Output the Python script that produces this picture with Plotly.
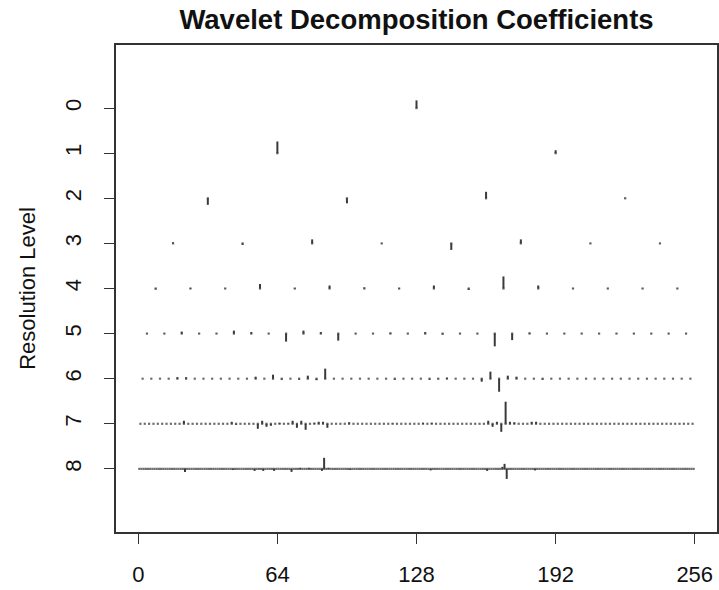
import plotly.graph_objects as go

# ---- data: wavelet coefficients per resolution level (upward = positive) ----
levels = [0, 1, 2, 3, 4, 5, 6, 7, 8]
n_points = 256

level0 = [7.7]
level1 = [11.7, 3.0]
level2 = [-6.5, -5.0, 6.5, 0.5]
level3 = [1.0, -1.5, 4.0, 0.3, -6.5, 4.0, 0.3, 0.3]
level4 = [-1.0, 0.5, 0.3, 4.5, -0.5, 3.0, 1.0, -0.5,
          3.0, -1.5, 12.0, 3.0, 0.3, 0.3, 0.3, 0.3]
level5 = [0.3, 0.3, 2.0, 0.3, 0.3, 3.0, 1.5, 0.3,
          -8.0, 3.0, 1.5, -7.0, 0.3, 0.3, 1.0, 0.3,
          1.5, -1.0, 0.3, 0.3, -12.7, -6.5, 1.0, 0.3,
          0.3, 0.3, 0.3, 0.3, 0.3, 0.3, 0.3, 0.3]
# sparse larger coefficients for the finest levels (others ~ 0)
level6_idx = [4, 5, 13, 15, 16, 18, 19, 20, 21, 29, 33, 34, 35, 39, 40, 41, 42, 43, 46]
level6_val = [1.5, 1.5, 2.0, 4.0, -1.0, -1.0, 3.0, -1.5, 10.0, -1.0, -1.0, -0.5, 1.0,
              -3.0, 7.0, -13.0, 3.0, 2.0, -1.0]
level7_idx = [10, 21, 22, 27, 28, 29, 30, 32, 34, 35, 36, 37, 38, 40, 41, 42, 43, 48,
              58, 65, 67, 80, 81, 82, 83, 84, 85, 86, 90, 91]
level7_val = [3.0, 2.0, -1.0, -5.0, 3.0, -3.0, -2.0, 1.0, 0.5, 3.0, -4.0, 3.0, -6.0, 1.0,
              2.0, 2.0, -4.0, 1.5, 0.5, 1.0, 1.0, 3.0, -3.0, 2.0, -8.0, 22.0, 2.0, 1.5,
              2.0, 2.0]
level8_idx = [21, 43, 53, 57, 62, 70, 74, 78, 84, 85, 87, 97, 134, 160, 167, 168, 169, 182]
level8_val = [-3.0, -1.0, -2.0, -2.0, -2.0, -3.0, 1.0, 1.0, -2.0, 11.0, 1.0, -1.0, -1.5,
              -2.0, 2.0, 5.0, -10.0, -1.5]

x_ticks = [0, 64, 128, 192, 256]
x_tick_labels = ["0", "64", "128", "192", "256"]


def dense(n, idx, val):
    out = [0.0] * n
    for i, v in zip(idx, val):
        out[i] = v
    return out


coefs = [level0, level1, level2, level3, level4, level5,
         dense(64, level6_idx, level6_val),
         dense(128, level7_idx, level7_val),
         dense(256, level8_idx, level8_val)]

max_abs = max(abs(v) for c in coefs for v in c)
scale = 0.49 / max_abs  # global scaling: largest coefficient spans ~half a level

fig = go.Figure()
seg_color = "#3a3a3a"
dot_color = "#6e6e6e"

for lev, c in zip(levels, coefs):
    n = len(c)
    step = n_points / n
    xs = [(k + 0.5) * step for k in range(n)]
    # dots at every coefficient position
    fig.add_trace(go.Scatter(
        x=xs, y=[lev] * n, mode="markers",
        marker=dict(symbol="square", size=2.2, color=dot_color, line=dict(width=0)),
        hoverinfo="skip", showlegend=False))
    # vertical segments
    sx, sy = [], []
    for xv, v in zip(xs, c):
        if v == 0:
            continue
        sx += [xv, xv, None]
        sy += [lev, lev - v * scale, None]
    fig.add_trace(go.Scatter(
        x=sx, y=sy, mode="lines",
        line=dict(color=seg_color, width=2),
        hoverinfo="skip", showlegend=False))

font_family = "Liberation Sans, Arial, Helvetica, sans-serif"

fig.update_layout(
    width=719, height=590,
    margin=dict(l=116, r=0, t=45, b=58),
    paper_bgcolor="white", plot_bgcolor="white",
    font=dict(family=font_family, color="#111111", size=22),
    title=dict(text="<b>Wavelet Decomposition Coefficients</b>",
               x=0.5, xref="paper", xanchor="center",
               y=1 - 19 / 590, yref="container", yanchor="middle",
               font=dict(size=27.5, family=font_family, color="#111111")),
    showlegend=False,
)

fig.update_xaxes(
    range=[-10.24, 266.24], tickvals=x_ticks, ticktext=x_tick_labels,
    showgrid=False, zeroline=False,
    showline=True, mirror=True, linecolor="#333333", linewidth=1.5,
    ticks="outside", ticklen=10, tickwidth=1.2, tickcolor="#333333",
    ticklabelstandoff=12,
    tickfont=dict(size=22),
)
fig.update_yaxes(
    range=[9.4, -1.4], tickvals=levels, ticktext=[str(l) for l in levels],
    showgrid=False, zeroline=False,
    showline=True, mirror=True, linecolor="#333333", linewidth=1.5,
    ticks="outside", ticklen=10, tickwidth=1.2, tickcolor="#333333",
    tickangle=-90, ticklabelstandoff=14,
    tickfont=dict(size=22),
    title=dict(text="Resolution Level", font=dict(size=22), standoff=20),
)

fig.write_html("out.html")
